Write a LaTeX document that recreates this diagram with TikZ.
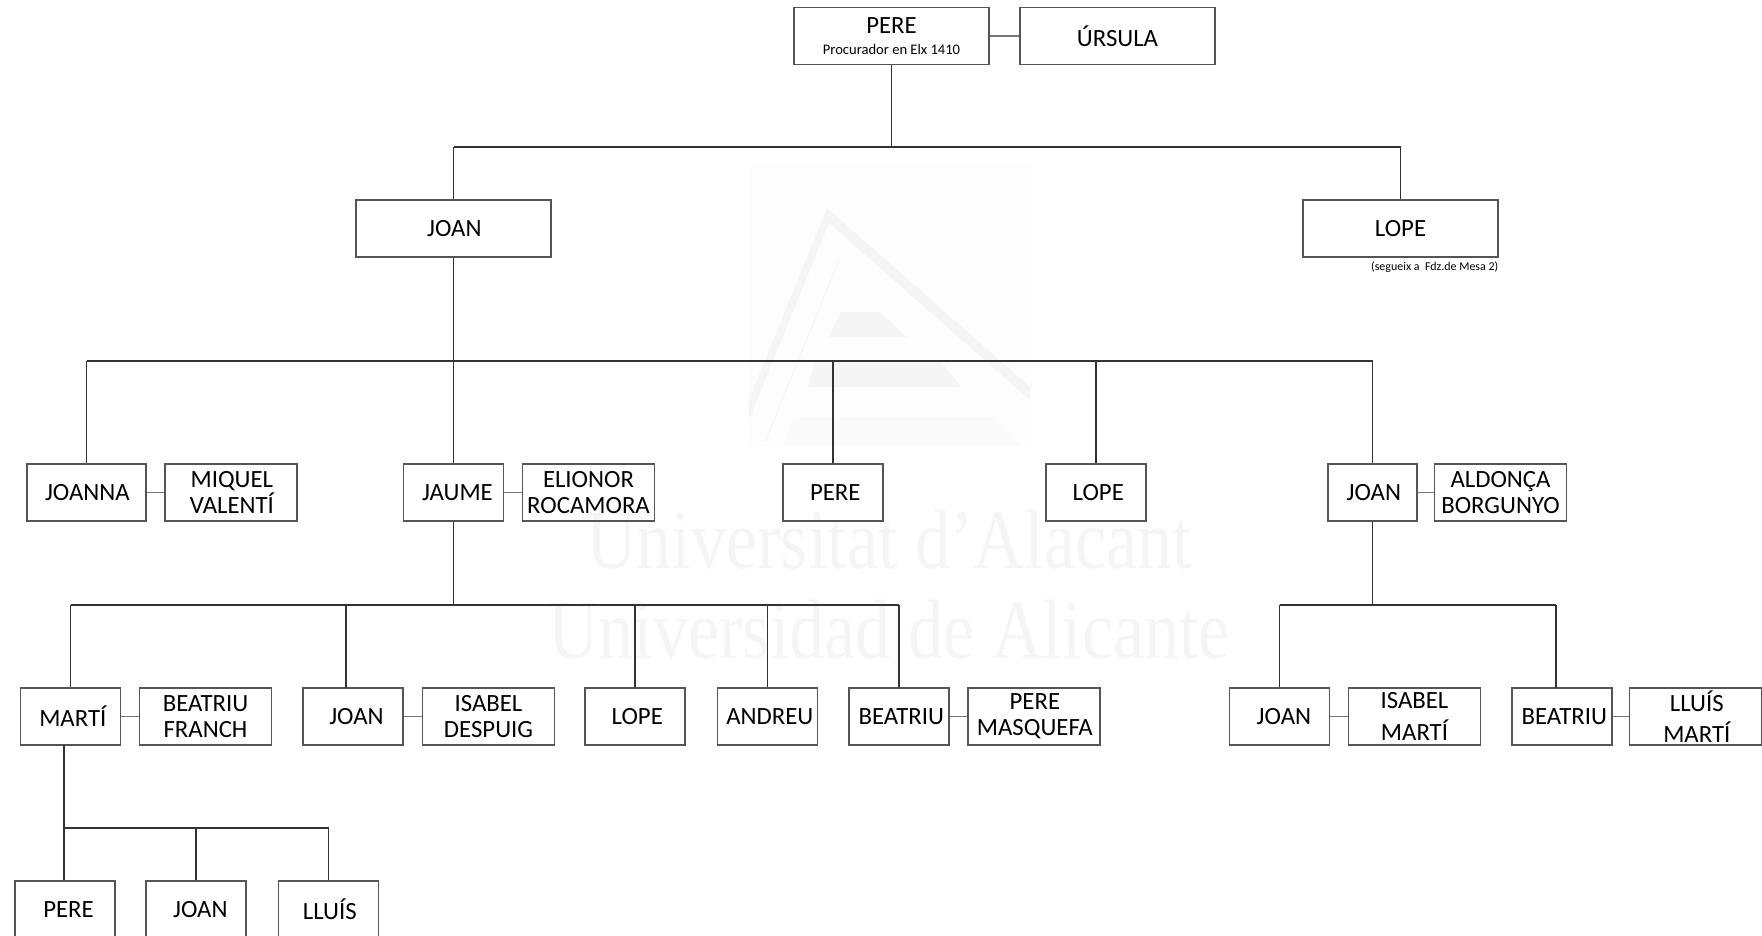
\documentclass[tikz,border=0pt]{standalone}
\usepackage{fontspec}
\setmainfont{Carlito}
\newfontfamily\markfont{Liberation Serif}
\usetikzlibrary{positioning}
\definecolor{linedark}{HTML}{333333}
\definecolor{boxline}{HTML}{555555}
\definecolor{tieline}{HTML}{777777}
\definecolor{markpale}{HTML}{F5F5F5}
\definecolor{markback}{HTML}{FDFDFD}
\newcommand{\nudged}[2][2.6pt]{\hspace*{#1}\raisebox{-0.6pt}{#2}}

\begin{document}
\begin{tikzpicture}[
  x=0.02cm, y=-0.02cm,
  person/.style={rectangle, draw=boxline, line width=0.7pt, minimum height=1.14cm, inner sep=0pt, align=center, text=black, font=\fontsize{14.1}{14.7}\selectfont},
  bigbox/.style={person, minimum width=3.9cm},
  sidebox/.style={person, minimum width=2.64cm},
  smallbox/.style={person, minimum width=2cm},
  tie/.style={draw=tieline, line width=0.7pt},
  bus/.style={draw=linedark, line width=0.7pt},
  markword/.style={text=markpale, font=\markfont\fontsize{48}{48}\selectfont, xscale=0.832, transform shape}
]
\useasboundingbox (0,0) rectangle (1762,936);

% Watermark
\fill[markback] (749,165) rectangle (1032,447);
\fill[markpale] (827,208) -- (1030,387) -- (1030,400) -- (829,223) -- (749,420) -- (749,400) -- cycle;
\fill[markpale] (841,312) -- (879,312) -- (907,337) -- (829,337) -- cycle;
\fill[markpale] (815,360) -- (940,360) -- (961,387) -- (808,387) -- cycle;
\fill[markback!60!markpale] (794,417) -- (992,417) -- (1020,445) -- (784,445) -- cycle;
\draw[markpale, line width=0.5pt] (839,260) -- (765,442);
\node[markword] (markA) at (889,540) {Universitat d’Alacant};
\node[markword] (markB) at (889,630) {Universidad de Alicante};

% Top couple
\node[bigbox] (pereTop) at (891.5,36) {PERE\\[-2.8pt]{\fontsize{8.3}{8.3}\selectfont Procurador en Elx 1410}};
\node[bigbox] (ursula) at (1117.5,36) {\raisebox{-0.6pt}{ÚRSULA}};
\draw[tie] (pereTop) -- (ursula);

% Second row
\node[bigbox] (joanTop) at (453.5,228.5) {\nudged[1pt]{JOAN}};
\node[bigbox] (lopeTop) at (1400.5,228.5) {LOPE};
\node[anchor=north east, inner sep=0pt, font=\fontsize{6.8}{6.8}\selectfont] (lopeNote) at ([yshift=-2pt]lopeTop.south east) {(segueix a \ Fdz.de Mesa 2)};

\coordinate (busA) at (891.5,147);
\draw[bus] (pereTop) -- (busA);
\draw[bus] (joanTop |- busA) -- (lopeTop |- busA);
\draw[bus] (joanTop) -- (joanTop |- busA);
\draw[bus] (lopeTop) -- (lopeTop |- busA);

% Children of Joan
\node[person, minimum width=2.38cm] (joanna) at (86.5,492.5) {\nudged[1pt]{JOANNA}};
\node[sidebox] (miquel) at (231,492.5) {\nudged[1pt]{MIQUEL}\\\nudged[1pt]{VALENTÍ}};
\node[smallbox] (jaume) at (453.5,492.5) {\nudged[4.5pt]{JAUME}};
\node[sidebox] (elionor) at (588.5,492.5) {ELIONOR\\ROCAMORA};
\node[smallbox] (pereB) at (833,492.5) {\nudged{PERE}};
\node[smallbox] (lopeB) at (1096,492.5) {\nudged{LOPE}};
\node[person, minimum width=1.78cm] (joanB) at (1372.5,492.5) {\nudged[1.5pt]{JOAN}};
\node[sidebox] (aldonca) at (1500.5,492.5) {ALDONÇA\\BORGUNYO};

\draw[tie] (joanna) -- (miquel);
\draw[tie] (jaume) -- (elionor);
\draw[tie] (joanB) -- (aldonca);

\coordinate (busB) at (453.5,361);
\draw[bus] (joanna |- busB) -- (joanB |- busB);
\draw[bus] (joanTop) -- (jaume);
\draw[bus] (joanna) -- (joanna |- busB);
\draw[bus] (pereB) -- (pereB |- busB);
\draw[bus] (lopeB) -- (lopeB |- busB);
\draw[bus] (joanB) -- (joanB |- busB);

% Children of Jaume
\node[smallbox] (marti) at (70.5,716.5) {\nudged{MARTÍ}};
\node[sidebox] (beatriuF) at (205.5,716.5) {BEATRIU\\[0.3pt]FRANCH};
\node[smallbox] (joanC) at (353,716.5) {\nudged[4pt]{JOAN}};
\node[sidebox] (isabelD) at (488.5,716.5) {ISABEL\\[0.3pt]DESPUIG};
\node[smallbox] (lopeC) at (635,716.5) {\nudged{LOPE}};
\node[smallbox] (andreu) at (767.5,716.5) {\nudged{ANDREU}};
\node[smallbox] (beatriuC) at (899,716.5) {\nudged{BEATRIU}};
\node[sidebox] (pereM) at (1034,716.5) {\nudged[1pt]{PERE}\\\nudged[1pt]{MASQUEFA}};

\draw[tie] (marti) -- (beatriuF);
\draw[tie] (joanC) -- (isabelD);
\draw[tie] (beatriuC) -- (pereM);

\coordinate (busC) at (453.5,605);
\coordinate (joanCtop) at (346,688);
\draw[bus] (jaume) -- (busC);
\draw[bus] (marti |- busC) -- (beatriuC |- busC);
\draw[bus] (marti) -- (marti |- busC);
\draw[bus] (joanCtop) -- (joanCtop |- busC);
\draw[bus] (lopeC) -- (lopeC |- busC);
\draw[bus] (andreu) -- (andreu |- busC);
\draw[bus] (beatriuC) -- (beatriuC |- busC);

% Children of Joan and Aldonça
\node[smallbox] (joanD) at (1279.5,716.5) {\nudged[5pt]{JOAN}};
\node[sidebox] (isabelM) at (1414.5,716.5) {ISABEL\\[3pt]MARTÍ};
\node[smallbox] (beatriuD) at (1562,716.5) {\nudged{BEATRIU}};
\node[sidebox] (lluisM) at (1695.5,716.5) {\nudged[1.5pt]{LLUÍS}\\[3pt]\nudged[1.5pt]{MARTÍ}};

\draw[tie] (joanD) -- (isabelM);
\draw[tie] (beatriuD) -- (lluisM);

\coordinate (busD) at (1372.5,605);
\coordinate (beatriuDtop) at (1556,688);
\draw[bus] (joanB) -- (busD);
\draw[bus] (joanD |- busD) -- (beatriuDtop |- busD);
\draw[bus] (joanD) -- (joanD |- busD);
\draw[bus] (beatriuDtop) -- (beatriuDtop |- busD);

% Children of Marti
\node[smallbox] (pereE) at (65,909.5) {\nudged[4pt]{PERE}};
\node[smallbox] (joanE) at (196,909.5) {\nudged[5pt]{JOAN}};
\node[smallbox] (lluisE) at (328.5,909.5) {\nudged[1.5pt]{LLUÍS}};

\coordinate (martiFoot) at (64,745);
\coordinate (busE) at (64,828);
\draw[bus] (martiFoot) -- (busE) -- (busE -| lluisE) -- (lluisE);
\draw[bus] (busE) -- (busE |- pereE.north);
\draw[bus] (joanE) -- (joanE |- busE);
\end{tikzpicture}
\end{document}
